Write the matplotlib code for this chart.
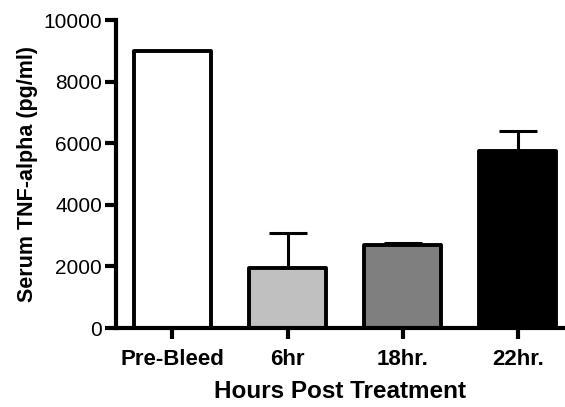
import matplotlib
matplotlib.use("Agg")
import matplotlib.pyplot as plt
import numpy as np

categories = ["Pre-Bleed", "6hr", "18hr.", "22hr."]
values = [9000, 1950, 2700, 5750]
errors_up = [0, 1150, 70, 650]
colors = ["#ffffff", "#c0c0c0", "#7f7f7f", "#000000"]
yticks = [0, 2000, 4000, 6000, 8000, 10000]

plt.rcParams['font.family'] = ['Liberation Sans', 'DejaVu Sans']

fig = plt.figure(figsize=(5.65, 4.07), dpi=100)
ax = fig.add_axes([116/565, 1-328/407, 1-116/565, 308/407])

x = np.arange(len(categories))
bars = ax.bar(x, values, width=0.67, color=colors, edgecolor="black",
              linewidth=2.8, zorder=2)
for b in bars:
    b.set_joinstyle("round")
for xi, v, e in zip(x, values, errors_up):
    if e > 0:
        ax.errorbar(xi, v, yerr=[[0], [e]], fmt="none", ecolor="black",
                    elinewidth=2.2, capsize=14, capthick=2.2, zorder=1)

ax.set_xlim(-0.49, 3.41)
ax.set_ylim(0, 10000)
ax.set_yticks(yticks)
ax.set_yticklabels([str(t) for t in yticks], fontsize=15)
ax.set_xticks(x)
ax.set_xticklabels(categories, fontsize=16, fontweight="bold")
for s in ["top", "right"]:
    ax.spines[s].set_visible(False)
for s in ["left", "bottom"]:
    ax.spines[s].set_linewidth(3)
ax.tick_params(axis="both", width=3, length=8)
ax.tick_params(axis="y", pad=2)
ax.tick_params(axis="x", pad=7)
ax.set_ylabel("Serum TNF-alpha (pg/ml)", fontsize=15.5, fontweight="bold", labelpad=4)
ax.set_xlabel("Hours Post Treatment", fontsize=17.5, fontweight="bold", labelpad=7)

fig.savefig("out.png", dpi=100)
